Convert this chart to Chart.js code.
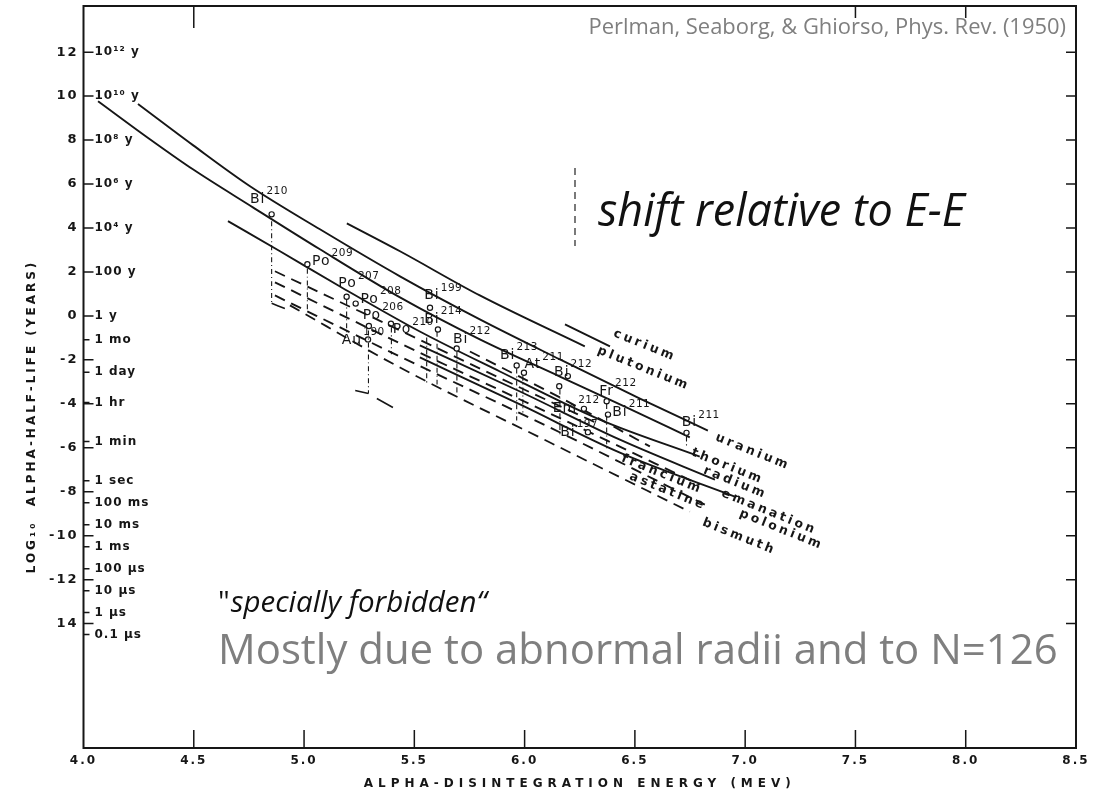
<!DOCTYPE html>
<html><head><meta charset="utf-8">
<script src="https://cdn.jsdelivr.net/npm/chart.js@4.4.1/dist/chart.umd.min.js"></script>
<style>html,body{margin:0;padding:0;background:#fff}#wrap{width:1102px;height:798px}</style>
</head><body><div id="wrap"><canvas id="c" width="1102" height="798"></canvas></div>
<script>
// ---------------- data ----------------
const xMin = 4.0, xMax = 8.5, yMin = -19.66, yMax = 14.1;
const xTickValues = [4.0, 4.5, 5.0, 5.5, 6.0, 6.5, 7.0, 7.5, 8.0, 8.5];
const xTickLabels = ['4.0', '4.5', '5.0', '5.5', '6.0', '6.5', '7.0', '7.5', '8.0', '8.5'];
const topTickValues = [4.5, 7.5, 8.0];
const yTickValues = [12, 10, 8, 6, 4, 2, 0, -2, -4, -6, -8, -10, -12, -14];
const yTickLabels = ['12', '10', '8', '6', '4', '2', '0', '-2', '-4', '-6', '-8', '-10', '-12', '14'];
const timeTickValues = [12, 10, 8, 6, 4, 2, 0, -1.08, -2.56, -3.94, -5.72, -7.5, -8.5, -9.5, -10.5, -11.5, -12.5, -13.5, -14.5];
const timeTickLabels = ['10¹² y', '10¹⁰ y', '10⁸ y', '10⁶ y', '10⁴ y', '100 y', '1 y', '1 mo', '1 day', '1 hr', '1 min', '1 sec', '100 ms', '10 ms', '1 ms', '100 µs', '10 µs', '1 µs', '0.1 µs'];

// element lines: alpha-disintegration energy (MeV) vs log10 half-life (years)
const thoriumE = [4.066, 4.301, 4.496, 4.768, 5.072, 5.435, 5.797, 6.160, 6.464, 6.749];
const thoriumLog = [9.77, 8.04, 6.67, 4.94, 3.03, 0.84, -1.07, -2.76, -4.17, -5.53];
const uraniumE = [4.247, 4.496, 4.755, 5.072, 5.435, 5.797, 6.160, 6.523, 6.831];
const uraniumLog = [9.64, 7.77, 5.90, 3.94, 1.80, -0.16, -1.98, -3.76, -5.22];
const plutoniumE = [5.194, 5.435, 5.797, 6.273];
const plutoniumLog = [4.21, 2.94, 0.93, -1.39];
const curiumE = [6.183, 6.387];
const curiumLog = [-0.39, -1.39];
const radiumE = [4.655, 4.891, 5.163, 5.525, 5.888, 6.341, 6.794];
const radiumLog = [4.31, 2.94, 1.34, -0.71, -2.53, -4.72, -6.40];
const emanationE = [5.525, 5.979, 6.432, 6.863];
const emanationLog = [-1.34, -3.44, -5.63, -7.45];
const poloniumE = [5.525, 5.979, 6.432, 6.953];
const poloniumLog = [-1.89, -4.03, -6.22, -8.22];
const franciumE = [5.752, 6.160, 6.568];
const franciumLog = [-1.62, -3.71, -5.94];
const astatineE = [4.868, 5.435, 6.115, 6.794];
const astatineLog = [1.53, -1.25, -4.44, -7.68];
const bismuthE = [4.868, 5.435, 6.115, 6.817];
const bismuthLog = [0.93, -1.85, -5.08, -8.59];
const shiftedAE = [4.868, 5.435, 5.979, 6.341];
const shiftedALog = [2.03, -0.66, -3.26, -4.94];
const shiftedBE = [4.936, 5.435, 6.115, 6.749];
const shiftedBLog = [0.48, -2.35, -5.76, -8.91];
const bracketE = [4.853, 4.913];
const bracketLog = [0.57, 0.34];
const au190StubAE = [5.232, 5.292];
const au190StubALog = [-3.39, -3.53];
const au190StubBE = [5.330, 5.403];
const au190StubBLog = [-3.76, -4.17];

// measured nuclides
const isoSymbol = ['Bi', 'Po', 'Po', 'Po', 'Po', 'Au', 'Po', 'Bi', 'Bi', 'Bi', 'Bi', 'At', 'Bi', '', 'Em', 'Bi', 'Fr', 'Bi', 'Bi'];
const isoMass = ['210', '209', '207', '208', '206', '190', '210', '199', '214', '212', '213', '211', '212', '', '212', '197', '212', '211', '211'];
const isoE = [4.853, 5.015, 5.193, 5.234, 5.294, 5.290, 5.394, 5.571, 5.607, 5.692, 5.964, 5.997, 6.196, 6.157, 6.269, 6.287, 6.372, 6.378, 6.734];
const isoLog = [4.62, 2.35, 0.87, 0.56, -0.46, -1.07, -0.36, 0.37, -0.62, -1.48, -2.26, -2.59, -2.74, -3.20, -4.23, -5.29, -3.88, -4.49, -5.32];

// vertical shift markers (top and bottom log half-life)
const shiftE = [4.853, 5.015, 5.193, 5.292, 5.396, 5.556, 5.603, 5.693, 5.964, 5.992, 6.160, 6.372, 6.734];
const shiftTop = [4.31, 2.16, 0.75, -0.66, -0.52, -0.98, -0.72, -1.62, -2.39, -2.71, -3.34, -3.99, -5.49];
const shiftBottom = [0.57, 0.21, -0.84, -3.53, -1.75, -3.03, -3.12, -3.53, -4.76, -4.40, -5.40, -6.17, -5.95];

// ---------------- layout / style ----------------
const INK = '#161616';
const lineNames = ['curium', 'plutonium', 'uranium', 'thorium', 'radium', 'francium', 'emanation', 'polonium', 'astatine', 'bismuth'];
const lineE = [curiumE, plutoniumE, uraniumE, thoriumE, radiumE, franciumE, emanationE, poloniumE, astatineE, bismuthE];
const lineLog = [curiumLog, plutoniumLog, uraniumLog, thoriumLog, radiumLog, franciumLog, emanationLog, poloniumLog, astatineLog, bismuthLog];
const lineDashed = [false, false, false, false, false, true, false, false, true, true];
// canvas position (left end, text middle) of each rotated line label
const lineLabelPos = [[614, 333], [598, 350], [716, 437], [692, 452], [704, 470], [622, 458], [722, 493], [740, 513], [630, 476], [703, 522]];
const isoLabelOffset = [[-14, -15], [14, -3], [1, -13], [14, -4], [3, -11], [-16, 1], [11, 6], [2, -12], [-6, -10], [4, -9], [-9, -10], [9, -8], [-6, -4], [0, 0], [-19, -1], [-20, 0], [0, -10], [12, -2], [3, -10]];
const textSpacing = {x: ['2px', '5px'], y: ['2px', '3px'], yt: ['1px', '0px']};

function pts(es, ls) { return es.map((e, i) => ({x: e, y: ls[i]})); }

const datasets = [];
lineNames.forEach((n, i) => {
  datasets.push({label: n, data: pts(lineE[i], lineLog[i]), showLine: true, pointRadius: 0,
    borderColor: INK, borderWidth: 1.9, cubicInterpolationMode: 'monotone',
    borderDash: lineDashed[i] ? [11, 7] : [], order: 2});
});
[[shiftedAE, shiftedALog], [shiftedBE, shiftedBLog]].forEach(([es, ls], i) => {
  datasets.push({label: 'shifted ' + i, data: pts(es, ls), showLine: true, pointRadius: 0,
    borderColor: INK, borderWidth: 1.8, cubicInterpolationMode: 'monotone', borderDash: [11, 7]});
});
[[bracketE, bracketLog], [au190StubAE, au190StubALog], [au190StubBE, au190StubBLog]].forEach(([es, ls], i) => {
  datasets.push({label: 'stub ' + i, data: pts(es, ls), showLine: true, pointRadius: 0,
    borderColor: INK, borderWidth: 1.6});
});
shiftE.forEach((e, i) => {
  datasets.push({label: 'shift ' + i, data: [{x: e, y: shiftTop[i]}, {x: e, y: shiftBottom[i]}], showLine: true,
    pointRadius: 0, borderColor: INK, borderWidth: 1.1, borderDash: [5, 3, 1, 3]});
});
datasets.push({label: 'nuclides', data: pts(isoE, isoLog), showLine: false, pointStyle: 'circle',
  pointRadius: 2.6, pointBorderWidth: 1.2, pointBackgroundColor: '#fff', pointBorderColor: INK, order: 0});

const axisFont = {family: 'DejaVu Sans', size: 12, weight: 'bold'};
const noEdgePad = s => { s.paddingTop = 0; s.paddingBottom = 0; s.paddingLeft = 0; s.paddingRight = 0; };

const decor = {
  id: 'decor',
  beforeDraw(chart) {
    Object.keys(textSpacing).forEach(id => {
      const sc = chart.scales[id];
      if (!sc || sc._spacingPatched) return;
      const [ls, ts] = textSpacing[id];
      const dl = sc.drawLabels.bind(sc), dt = sc.drawTitle.bind(sc);
      sc.drawLabels = function (a) { const c = this.ctx; c.save(); c.letterSpacing = ls; dl(a); c.restore(); };
      sc.drawTitle = function () { const c = this.ctx; c.save(); c.letterSpacing = ts; dt(); c.restore(); };
      sc._spacingPatched = true;
    });
  },
  afterDraw(chart) {
    const {ctx, chartArea: a, scales: {x, y}} = chart;
    ctx.save();
    ctx.letterSpacing = '0px';
    ctx.strokeStyle = INK; ctx.lineWidth = 2;
    ctx.strokeRect(a.left, a.top, a.right - a.left, a.bottom - a.top);
    ctx.lineWidth = 1.5;
    ctx.beginPath();
    yTickValues.forEach(v => { const p = y.getPixelForValue(v); ctx.moveTo(a.left, p); ctx.lineTo(a.left + 10, p); ctx.moveTo(a.right - 10, p); ctx.lineTo(a.right, p); });
    timeTickValues.forEach(v => { const p = y.getPixelForValue(v); ctx.moveTo(a.left, p); ctx.lineTo(a.left + 6, p); });
    xTickValues.slice(1, -1).forEach(v => { const p = x.getPixelForValue(v); ctx.moveTo(p, a.bottom); ctx.lineTo(p, a.bottom - 18); });
    topTickValues.forEach((v, i) => { const p = x.getPixelForValue(v); ctx.moveTo(p, a.top); ctx.lineTo(p, a.top + (i === 0 ? 22 : 12)); });
    ctx.stroke();

    // nuclide labels
    ctx.fillStyle = INK;
    ctx.textBaseline = 'middle';
    isoSymbol.forEach((s, i) => {
      if (!s) return;
      const px = x.getPixelForValue(isoE[i]) + isoLabelOffset[i][0];
      const py = y.getPixelForValue(isoLog[i]) + isoLabelOffset[i][1];
      ctx.font = '14px "DejaVu Sans"'; ctx.letterSpacing = '1px'; ctx.textAlign = 'center';
      ctx.fillText(s, px, py);
      const w = ctx.measureText(s).width;
      ctx.font = '10.5px "DejaVu Sans"'; ctx.letterSpacing = '0.5px'; ctx.textAlign = 'left';
      ctx.fillText(isoMass[i], px + w / 2 + 1, py - 8);
    });

    // element line labels
    ctx.font = 'bold 12.5px "DejaVu Sans"'; ctx.letterSpacing = '3px'; ctx.textAlign = 'left';
    lineNames.forEach((n, i) => {
      ctx.save(); ctx.translate(lineLabelPos[i][0], lineLabelPos[i][1]); ctx.rotate(22 * Math.PI / 180);
      ctx.fillText(n, 0, 0); ctx.restore();
    });

    // overlay annotations
    ctx.letterSpacing = '0px';
    const fam = '"Open Sans", "Noto Sans", sans-serif';
    function fit(text, style, target) { ctx.font = style + ' 100px ' + fam; return 100 * target / ctx.measureText(text).width; }
    let s;
    const cite = 'Perlman, Seaborg, & Ghiorso, Phys. Rev. (1950)';
    s = fit(cite, '', 478); ctx.font = s + 'px ' + fam; ctx.fillStyle = '#7f7f7f'; ctx.textAlign = 'right';
    ctx.fillText(cite, 1066, 28);
    const shift = 'shift relative to E-E';
    s = fit(shift, 'italic', 367); ctx.font = 'italic ' + s + 'px ' + fam; ctx.fillStyle = '#111'; ctx.textAlign = 'left';
    ctx.fillText(shift, 598, 213);
    const sp = 'specially forbidden“';
    s = fit(sp, 'italic', 256); ctx.font = s + 'px ' + fam; ctx.fillText('"', 218, 604);
    const qw = ctx.measureText('"').width;
    ctx.font = 'italic ' + s + 'px ' + fam; ctx.fillText(sp, 218 + qw + 1, 604);
    const most = 'Mostly due to abnormal radii and to N=126';
    s = fit(most, '', 840); ctx.font = s + 'px ' + fam; ctx.fillStyle = '#7f7f7f';
    ctx.fillText(most, 218, 652);
    ctx.strokeStyle = '#222'; ctx.lineWidth = 1.2; ctx.setLineDash([7, 5]);
    ctx.beginPath(); ctx.moveTo(575, 168); ctx.lineTo(575, 246); ctx.stroke();
    ctx.restore();
  }
};

new Chart(document.getElementById('c'), {
  type: 'scatter',
  data: {datasets},
  plugins: [decor],
  options: {
    responsive: false, animation: false, devicePixelRatio: 1,
    layout: {padding: {top: 6, right: 26, left: 0, bottom: 0}},
    plugins: {legend: {display: false}, tooltip: {enabled: false}},
    elements: {line: {tension: 0.4}},
    scales: {
      x: {type: 'linear', position: 'bottom', min: xMin, max: xMax,
        afterBuildTicks: s => { s.ticks = xTickValues.map(v => ({value: v})); },
        afterFit: s => { s.height = 50; noEdgePad(s); },
        ticks: {autoSkip: false, maxRotation: 0, padding: 6, color: INK, font: axisFont,
          callback: v => xTickLabels[xTickValues.indexOf(v)]},
        grid: {display: false, drawTicks: false}, border: {display: false},
        title: {display: true, text: 'ALPHA-DISINTEGRATION ENERGY (MEV)', color: INK,
          font: {family: 'DejaVu Sans', size: 12, weight: 'bold'}, padding: {top: 0, bottom: 7}}},
      y: {type: 'linear', position: 'left', min: yMin, max: yMax, weight: 1,
        afterBuildTicks: s => { s.ticks = yTickValues.map(v => ({value: v})); },
        afterFit: s => { s.width = 83.5; noEdgePad(s); },
        ticks: {autoSkip: false, padding: 5, color: INK, font: {family: 'DejaVu Sans', size: 13, weight: 'bold'},
          callback: v => yTickLabels[yTickValues.indexOf(v)]},
        grid: {display: false, drawTicks: false}, border: {display: false},
        title: {display: true, text: 'LOG₁₀  ALPHA-HALF-LIFE (YEARS)           ', color: INK,
          font: {family: 'DejaVu Sans', size: 12, weight: 'bold'}, padding: {top: 25, bottom: 0}}},
      yt: {type: 'linear', position: 'left', min: yMin, max: yMax, weight: -1,
        afterBuildTicks: s => { s.ticks = timeTickValues.map(v => ({value: v})); },
        afterFit: s => { s.width = 0; noEdgePad(s); },
        ticks: {autoSkip: false, mirror: true, padding: 11, color: INK, font: {family: 'DejaVu Sans', size: 12, weight: 'bold'},
          callback: v => timeTickLabels[timeTickValues.indexOf(v)]},
        grid: {display: false, drawTicks: false}, border: {display: false}}
    }
  }
});
</script></body></html>
